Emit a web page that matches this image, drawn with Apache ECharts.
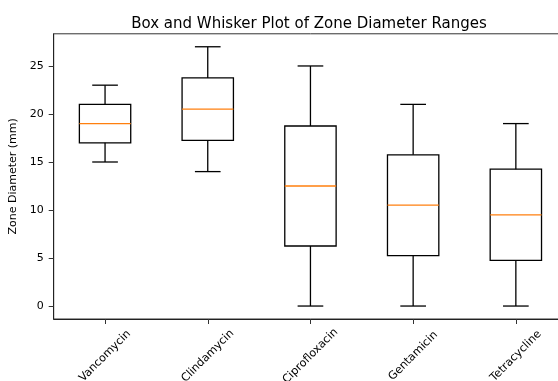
<!DOCTYPE html>
<html>
<head>
<meta charset="utf-8">
<script src="https://cdn.jsdelivr.net/npm/echarts@6/dist/echarts.min.js"></script>
<style>
html,body{margin:0;padding:0;background:#fff;overflow:hidden;width:558px;height:381px;}
#chart{width:570px;height:381px;}
</style>
</head>
<body>
<div id="chart"></div>
<script>
const categories = ['Vancomycin', 'Clindamycin', 'Ciprofloxacin', 'Gentamicin', 'Tetracycline'];
const lowWhisker = [15, 14, 0, 0, 0];
const q1Values = [17, 17.25, 6.25, 5.25, 4.75];
const medians = [19, 20.5, 12.5, 10.5, 9.5];
const q3Values = [21, 23.75, 18.75, 15.75, 14.25];
const highWhisker = [23, 27, 25, 21, 19];
const yTicks = [0, 5, 10, 15, 20, 25];

const data = categories.map((c, i) => [i, lowWhisker[i], q1Values[i], medians[i], q3Values[i], highWhisker[i]]);

const FONT = 'DejaVu Sans';
const chart = echarts.init(document.getElementById('chart'), null, {renderer: 'canvas'});

function renderItem(params, api) {
  const idx = api.value(0);
  const lo = api.coord([idx, api.value(1)]);
  const q1 = api.coord([idx, api.value(2)]);
  const med = api.coord([idx, api.value(3)]);
  const q3 = api.coord([idx, api.value(4)]);
  const hi = api.coord([idx, api.value(5)]);
  const band = api.size([1, 0])[0];
  const bw = band * 0.5, cw = band * 0.25;
  const cx = lo[0];
  const lineStyle = {stroke: '#000', lineWidth: 1.3, fill: null};
  return {
    type: 'group',
    children: [
      {type: 'line', shape: {x1: cx, y1: q1[1], x2: cx, y2: lo[1]}, style: lineStyle},
      {type: 'line', shape: {x1: cx, y1: q3[1], x2: cx, y2: hi[1]}, style: lineStyle},
      {type: 'line', shape: {x1: cx - cw / 2, y1: lo[1], x2: cx + cw / 2, y2: lo[1]}, style: lineStyle},
      {type: 'line', shape: {x1: cx - cw / 2, y1: hi[1], x2: cx + cw / 2, y2: hi[1]}, style: lineStyle},
      {type: 'rect', shape: {x: cx - bw / 2, y: q3[1], width: bw, height: q1[1] - q3[1]}, style: {stroke: '#000', lineWidth: 1.3, fill: 'none'}},
      {type: 'line', shape: {x1: cx - bw / 2, y1: med[1], x2: cx + bw / 2, y2: med[1]}, style: {stroke: '#ff7f0e', lineWidth: 1.3}}
    ]
  };
}

chart.setOption({
  animation: false,
  backgroundColor: '#fff',
  title: {
    text: 'Box and Whisker Plot of Zone Diameter Ranges',
    left: 304,
    textAlign: 'center',
    top: 12,
    textStyle: {fontFamily: FONT, fontSize: 15, fontWeight: 'normal', color: '#000'}
  },
  grid: {
    left: 53.7, right: 2.8, top: 33.8, bottom: 62,
    outerBoundsMode: 'none', containLabel: false,
    show: true, borderColor: '#333', borderWidth: 1, backgroundColor: 'transparent'
  },
  xAxis: {
    type: 'category',
    data: categories,
    boundaryGap: true,
    axisLine: {show: true, onZero: false, lineStyle: {color: '#222', width: 1}},
    axisTick: {show: true, alignWithLabel: true, length: 5, lineStyle: {color: '#333'}},
    axisLabel: {
      rotate: 45, align: 'center', verticalAlign: 'middle', margin: 37,
      fontFamily: FONT, fontSize: 11.2, color: '#000', interval: 0, hideOverlap: false
    },
    splitLine: {show: false}
  },
  yAxis: {
    type: 'value',
    min: -1.35,
    max: 28.35,
    name: 'Zone Diameter (mm)',
    nameLocation: 'middle',
    nameGap: 28,
    nameTextStyle: {fontFamily: FONT, fontSize: 11, color: '#000'},
    axisLine: {show: true, lineStyle: {color: '#222', width: 1}},
    axisTick: {show: true, length: 5, lineStyle: {color: '#333'}, customValues: yTicks},
    axisLabel: {show: true, margin: 10, fontFamily: FONT, fontSize: 11, color: '#000', customValues: yTicks},
    splitLine: {show: false}
  },
  series: [{
    type: 'custom',
    renderItem: renderItem,
    encode: {x: 0, y: [1, 2, 3, 4, 5]},
    data: data,
    clip: false
  }]
});
</script>
</body>
</html>
